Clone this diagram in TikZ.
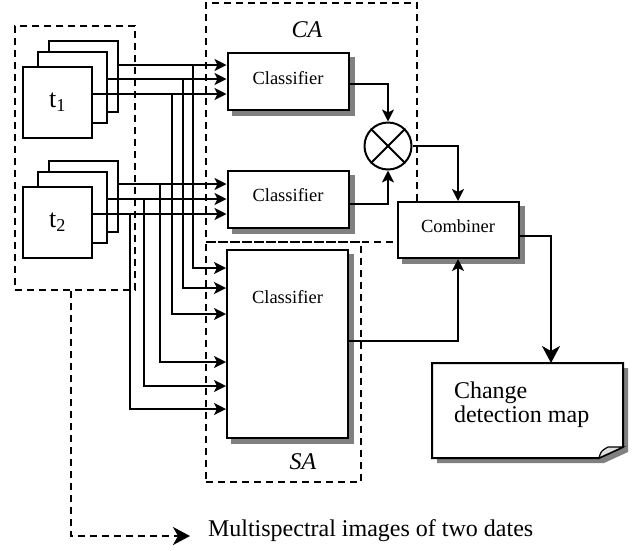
\documentclass[tikz,border=0pt]{standalone}
\usepackage{fontspec}
\setmainfont{Liberation Serif}
\usetikzlibrary{arrows.meta,backgrounds}

\begin{document}
\begin{tikzpicture}[x = 1pt, y = -1pt, line width = 2pt,
                    frame/.style = {draw, fill = white, minimum width = 69pt, minimum height = 71pt, inner sep = 0pt},
                    clf/.style = {draw, fill = white, line width = 2pt, minimum width = 121pt, minimum height = 57pt,
                                  text depth = 8pt, font = \fontsize{18.5}{20}\selectfont},
                    shadowbox/.style = {fill = black!50, draw = none},
                    grp/.style = {draw, dash pattern = on 7pt off 5pt, inner sep = 0pt},
                    arr/.style = {-{Stealth[length = 12pt, width = 12pt, inset = 3pt]}},
                    bigarr/.style = {-{Stealth[length = 17pt, width = 18pt, inset = 5pt]}}]

\useasboundingbox (0,0) rectangle (642,550);

% dashed groups
\node [grp, minimum width = 120pt, minimum height = 264pt] (IMG) at (75,158) {};
\node [grp, minimum width = 211pt, minimum height = 239pt] (CA) at (311.5,122.5) {};
\node [grp, minimum width = 155pt, minimum height = 240pt] (SA) at (283.5,362) {};
\node [font = \fontsize{24}{24}\selectfont\itshape] (CAlbl) at (307,30) {CA};
\node [font = \fontsize{24}{24}\selectfont\itshape] (SAlbl) at (303,462) {SA};

% image stacks
\node [frame] (T1c) at (83.5,76) {};
\node [frame] (T1b) at (72,87.5) {};
\node [frame, font = \fontsize{26}{26}\selectfont] (T1a) at (57.5,102.5) {t\textsubscript{1}};
\node [frame] (T2c) at (83.5,196) {};
\node [frame] (T2b) at (72,207.5) {};
\node [frame, font = \fontsize{26}{26}\selectfont] (T2a) at (57.5,222.5) {t\textsubscript{2}};

% classifiers
\node [clf] (CL1) at (288,81.5) {Classifier};
\node [clf] (CL2) at (288,199) {Classifier};
\node [clf, minimum height = 188pt] (CL3) at (287.5,344) {};
\node [font = \fontsize{18.5}{20}\selectfont] (CL3lbl) at (287.5,297) {Classifier};
\node [clf, minimum height = 56pt] (CMB) at (458,230) {Combiner};

\begin{scope}[on background layer]
\fill [shadowbox] ([shift = {(5,5)}]CL1.south west) rectangle ([shift = {(5,5)}]CL1.north east);
\fill [shadowbox] ([shift = {(5,5)}]CL2.south west) rectangle ([shift = {(5,5)}]CL2.north east);
\fill [shadowbox] ([shift = {(5,5)}]CL3.south west) rectangle ([shift = {(5,5)}]CL3.north east);
\fill [shadowbox] ([shift = {(5,5)}]CMB.south west) rectangle ([shift = {(5,5)}]CMB.north east);
\end{scope}

\node [circle, draw, fill = white, minimum size = 47pt, inner sep = 0pt] (MUL) at (388,146) {};
\draw (MUL.north west) -- (MUL.south east);
\draw (MUL.north east) -- (MUL.south west);

% inputs of the CA classifiers
\draw [arr] (T1c.east |- 0,65) -- (CL1.west |- 0,65);
\draw [arr] (T1b.east |- 0,79) -- (CL1.west |- 0,79);
\draw [arr] (T1a.east |- 0,94) -- (CL1.west |- 0,94);
\draw [arr] (T2c.east |- 0,184) -- (CL2.west |- 0,184);
\draw [arr] (T2b.east |- 0,199) -- (CL2.west |- 0,199);
\draw [arr] (T2a.east |- 0,214) -- (CL2.west |- 0,214);

% inputs of the SA classifier
\coordinate (J1) at (193,65);
\coordinate (J2) at (183,79);
\coordinate (J3) at (172,94);
\coordinate (J4) at (160,184);
\coordinate (J5) at (144,199);
\coordinate (J6) at (130,214);
\draw [arr] (J1) |- (CL3.west |- 0,268);
\draw [arr] (J2) |- (CL3.west |- 0,288);
\draw [arr] (J3) |- (CL3.west |- 0,314);
\draw [arr] (J4) |- (CL3.west |- 0,362);
\draw [arr] (J5) |- (CL3.west |- 0,386);
\draw [arr] (J6) |- (CL3.west |- 0,409);

% outputs
\draw [arr] (CL1.east |- 0,84) -| (MUL.north);
\draw [arr] (CL2.east |- 0,204) -| (MUL.south);
\draw [arr] (MUL.east) -| (CMB.north);
\draw [arr] (CL3.east |- 0,341) -| (CMB.south);

% change detection map
\fill [shadowbox] (437,368) -- (628,368) -- (628,452) -- (604,463) -- (437,463) -- cycle;
\draw [fill = white] (432,363) -- (623,363) -- (623,447) -- (599,458) -- (432,458) -- cycle;
\draw [fill = gray!25, line width = 1.2pt] (599,458) .. controls (601,451) .. (608,447) -- (623,447) -- cycle;
\node [anchor = west, align = left, inner sep = 0pt, font = \fontsize{24}{24}\selectfont] (MAP) at (453,405) {Change\\detection map};
\coordinate (MAPin) at (551,363);
\draw [bigarr] (CMB.east |- 0,236) -| (MAPin);

% legend
\node [anchor = west, inner sep = 0pt, font = \fontsize{24}{24}\selectfont] (DATES) at (207,531) {Multispectral images of two dates};
\coordinate (DATin) at (190,536);
\draw [grp, bigarr] (IMG.south -| 71,0) |- (DATin);

\end{tikzpicture}
\end{document}
